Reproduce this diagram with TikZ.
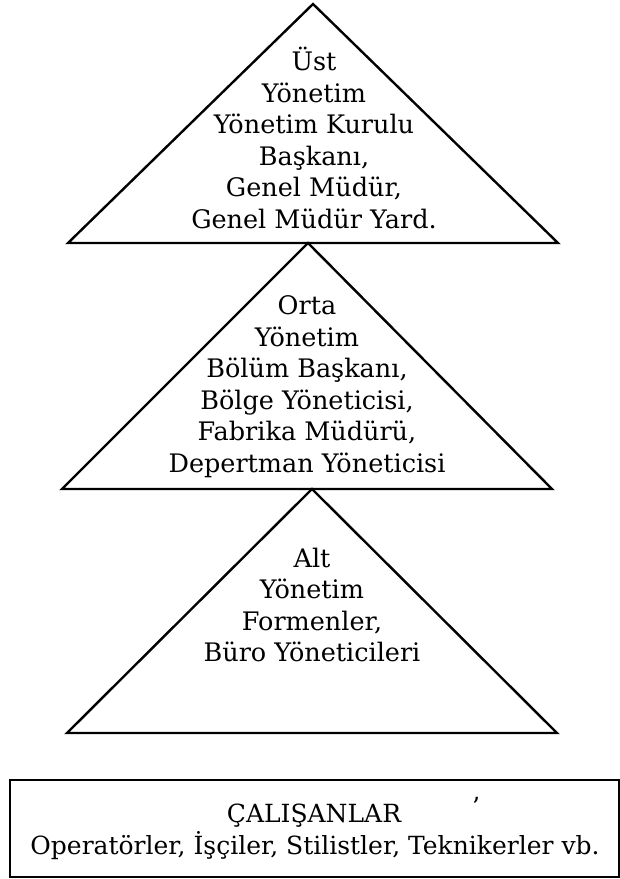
\documentclass[tikz,border=0pt]{standalone}
\usepackage{fontspec}
\setmainfont{DejaVu Serif}
\begin{document}
\begin{tikzpicture}[x=1pt,y=-1pt,
  shapeline/.style={draw=black, line width=2.4pt, line join=miter},
  lbl/.style={font=\fontsize{25.5}{31.5}\selectfont, inner sep=0pt, anchor=base},
  boxlbl/.style={font=\fontsize{25}{31.5}\selectfont, inner sep=0pt, anchor=base}]
\useasboundingbox (0,0) rectangle (620,879);
% triangles
\draw[shapeline] (313,4) -- (558,243) -- (68,243) -- cycle;
\draw[shapeline] (308,243) -- (552,489) -- (62,489) -- cycle;
\draw[shapeline] (312,489) -- (557,733) -- (67,733) -- cycle;
% bottom box
\draw[shapeline] (10,780) rectangle (619,877);
% top triangle text
\foreach \t [count=\i] in {Üst, Yönetim, Yönetim Kurulu, {Başkanı,}, {Genel Müdür,}, Genel Müdür Yard.}
  \node[lbl] (a\i) at (314, 39+31.5*\i) {\t};
% middle triangle text
\foreach \t [count=\i] in {Orta, Yönetim, {Bölüm Başkanı,}, {Bölge Yöneticisi,}, {Fabrika Müdürü,}, Depertman Yöneticisi}
  \node[lbl] (b\i) at (307, 283+31.5*\i) {\t};
% bottom triangle text
\foreach \t [count=\i] in {Alt, Yönetim, {Formenler,}, Büro Yöneticileri}
  \node[lbl] (c\i) at (312, 535.5+31.5*\i) {\t};
% box text
\node[boxlbl] (d1) at (314, 822) {ÇALIŞANLAR};
\node[boxlbl] (d2) at (315, 854) {Operatörler, İşçiler, Stilistler, Teknikerler vb.};
\node[boxlbl] (mark) at (476, 815) {’};
\end{tikzpicture}
\end{document}
